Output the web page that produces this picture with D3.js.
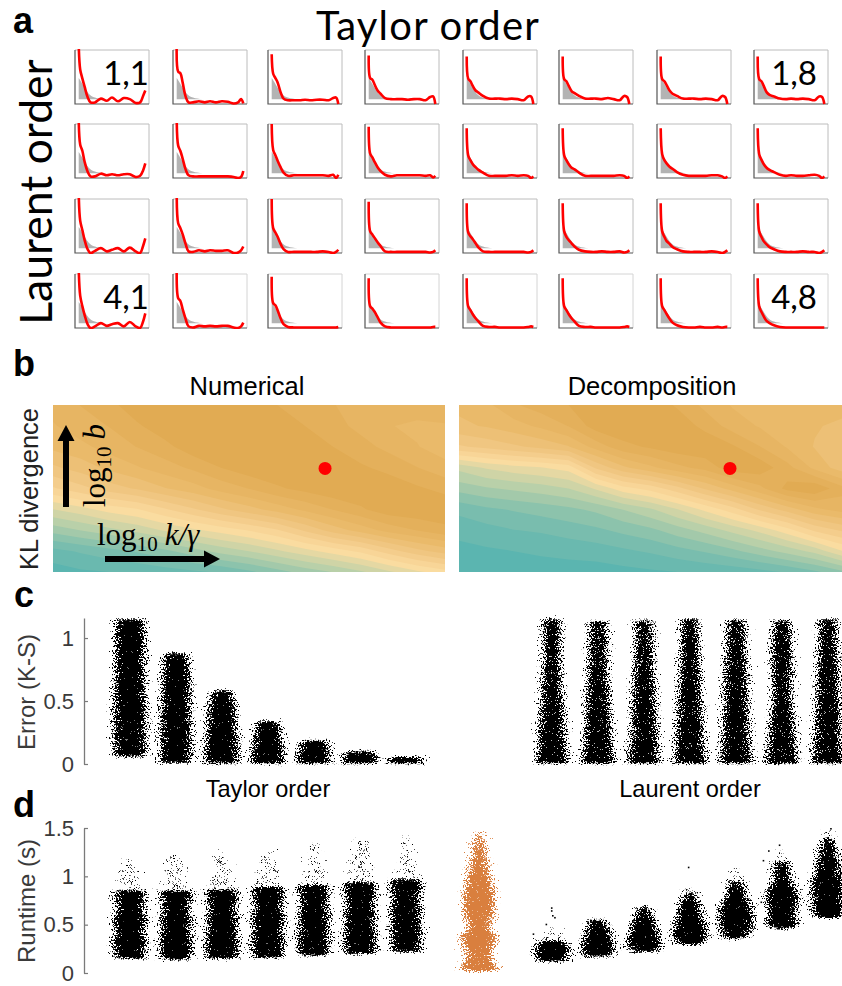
<!DOCTYPE html>
<html>
<head>
<meta charset="utf-8">
<script src="https://cdn.jsdelivr.net/npm/d3@7"></script>
<style>
  body { margin: 0; background: #fff; }
  svg { display: block; }
  text { font-family: "Liberation Sans", Arial, sans-serif; }
  .cal { font-family: Lato, "Open Sans", sans-serif; }
  .math { font-family: "Liberation Serif", serif; }
</style>
</head>
<body>
<svg id="fig" width="842" height="986"></svg>
<script>
// panel a: fit curves, one row per Laurent order, one entry per Taylor order
var curveX = [.05,.07,.1,.13,.17,.21,.27,.35,.43,.5,.58,.66,.74,.82,.88,.92,.95];
var histX = [.05,.07,.1,.14,.18,.22,.27,.33,.4,.5];
var histY = [.48,.44,.37,.28,.2,.15,.12,.1,.09,.09];
var fitsRow1 = [
  [1.1,.64,.47,.32,.13,.03,.03,.1,.06,.12,.05,.11,.09,.02,.03,.15,.25],
  [1.1,.6,.57,.4,.14,.03,.03,.05,.03,.05,.03,.05,.04,.01,.03,.09,.01],
  [.92,.56,.48,.4,.22,.1,.07,.07,.07,.08,.07,.08,.08,.07,.11,.12,0],
  [.9,.48,.45,.36,.25,.19,.11,.09,.09,.09,.08,.09,.09,.07,.13,.14,0],
  [.88,.47,.42,.34,.25,.21,.15,.1,.1,.1,.09,.1,.09,.07,.14,.14,0],
  [.88,.46,.42,.34,.24,.2,.15,.1,.1,.1,.09,.11,.09,.07,.15,.13,0],
  [.88,.46,.42,.35,.25,.19,.15,.1,.1,.1,.09,.1,.09,.07,.15,.13,0],
  [.88,.46,.42,.34,.22,.17,.14,.1,.09,.1,.09,.1,.09,.07,.14,.13,0]
];
var fitsRow2 = [
  [1.1,.62,.5,.3,.12,.03,.03,.08,.05,.07,.05,.07,.07,.02,.04,.14,.27],
  [1.1,.6,.5,.36,.16,.05,.03,.03,.03,.03,.03,.03,.03,.02,0,.02,.13],
  [1,.52,.42,.32,.2,.1,.04,.05,.05,.05,.05,.05,.05,.04,.06,0,.06],
  [.95,.45,.38,.3,.2,.13,.06,.03,.05,.05,.05,.05,.05,.04,.05,.01,.04],
  [.92,.42,.33,.26,.2,.15,.1,.04,.04,.04,.04,.05,.04,.05,.04,0,.03],
  [.92,.42,.33,.26,.19,.16,.1,.04,.04,.04,.04,.04,.04,.05,.04,0,.03],
  [.92,.44,.33,.27,.21,.17,.11,.06,.04,.04,.04,.04,.05,.05,.03,0,.03],
  [.92,.44,.34,.26,.19,.15,.11,.06,.04,.05,.04,.04,.05,.06,.04,0,.03]
];
var fitsRow3 = [
  [1.1,.6,.42,.24,.07,0,.04,.09,.03,.06,.09,.03,.1,.03,0,.13,.27],
  [1.1,.55,.46,.35,.17,.03,.02,.05,.03,.05,.04,.04,.05,0,.01,.05,.12],
  [1,.46,.38,.3,.17,.07,.02,.02,.02,.02,.02,.02,.03,.02,0,.02,.06],
  [.95,.4,.34,.28,.2,.13,.03,.02,.02,.02,.02,.02,.02,.02,.01,.02,.05],
  [.92,.38,.31,.26,.18,.1,.03,.02,.02,.02,.02,.02,.02,.02,.01,.02,.05],
  [.92,.4,.3,.24,.18,.12,.06,.03,.02,.02,.03,.02,.02,.03,.01,.02,.05],
  [.92,.4,.3,.22,.17,.11,.07,.03,.02,.02,.02,.02,.03,.02,0,.02,.05],
  [.92,.4,.3,.22,.16,.11,.07,.03,.02,.02,.02,.03,.02,.02,0,.02,.05]
];
var fitsRow4 = [
  [1.1,.6,.4,.24,.07,0,.03,.09,.04,.07,.09,.03,.11,.03,0,.12,.27],
  [1.1,.55,.5,.35,.17,.03,.01,.04,.03,.04,.03,.04,.04,.01,0,.03,.1],
  [.95,.46,.42,.33,.18,.07,.02,.01,.01,.01,.01,.01,.01,.01,.01,.01,.02],
  [.92,.4,.36,.3,.2,.1,.03,.01,.01,.01,.01,.01,.01,.01,.01,.02,.02],
  [.92,.4,.33,.26,.18,.12,.04,.02,.02,.01,.01,.01,.01,.01,.02,.03,.02],
  [.92,.4,.33,.26,.18,.12,.04,.02,.02,.01,.01,.01,.01,.01,.02,.03,.02],
  [.92,.4,.33,.26,.17,.1,.05,.02,.01,.01,.02,.01,.01,.02,.01,.02,.02],
  [.92,.4,.3,.22,.13,.09,.05,.02,.01,.01,.01,.01,.01,.01,.01,.01,.01]
];
var boxLefts = [75,173,268,365,463,559,657,754];
var boxTops = [50,124,199,274];
var cornerLabels = [[0,0,"1,1"],[0,7,"1,8"],[3,0,"4,1"],[3,7,"4,8"]];

var klNumerical = [
  [8.6,9,9.4,10,10.1,10.2,10.1,10,9.6,9.2,9,8.8,8.8,8.8,8.8],
  [8.3,8.7,9,9.5,10,10.1,10.2,10.2,10,9.6,9.2,8.8,8.4,8.2,8.3],
  [7.9,8.2,8.6,9,9.4,10,10.1,10.2,10.2,10,9.6,9.2,8.8,8.4,8],
  [7,7.4,7.9,8.3,8.7,9.1,9.6,10,10.1,10.1,10,9.7,9.4,9,8.6],
  [5.8,6.3,6.8,7.2,7.7,8.1,8.6,9,9.5,9.8,10.1,10.1,10,9.7,9.4],
  [4,4.4,4.9,5.2,5.8,6.4,7,7.5,8,8.5,9,9.5,10,10.1,10.1],
  [2.4,2.8,3.2,3.6,4.1,4.5,4.9,5.3,5.8,6.6,7.4,8,8.6,9,9.4],
  [.7,1,1.3,1.6,2,2.5,3,3.4,3.9,4.4,4.9,5.4,6.2,6.9,7.4],
  [0,.2,.3,.4,.6,.8,1,1.4,1.9,2.4,2.8,3.3,3.9,4.5,5]
];
var klDecomposition = [
  [7.9,8.2,8.9,9.3,9.6,10,10.2,10,9.5,8.8,8.3,8.2,8.1,8,8],
  [7.6,7.8,8.1,8.5,9,9.9,10.1,10.2,10,9.4,8.7,8.3,8,7.8,7.6],
  [6.4,6.7,7,7.3,7.7,8.6,9.4,9.7,10,10.1,9.7,9,8.3,7.7,7.2],
  [3.6,4.1,4.4,4.6,4.9,6.6,7.6,8.2,8.8,9.2,10,10,9.2,8.2,7.4],
  [2.4,2.7,2.9,3.1,3.4,4.1,5,5.5,6.3,7.2,8,8.8,9.8,10.1,9.2],
  [1.1,1.4,1.6,1.8,2,2.3,2.8,3.3,4,4.8,5.6,6.6,7.4,8.2,8.6],
  [.5,.7,.9,1,1.2,1.4,1.7,2,2.5,3,3.6,4.2,5,6,6.6],
  [.1,.2,.3,.4,.5,.6,.8,1,1.3,1.6,2,2.5,3,3.6,4.6],
  [0,0,0,0,0,0,.1,.2,.3,.4,.5,.7,1,1.4,2]
];
var klStops = [0,1.5,3,5,6.5,8,10];
var klColors = ["#5bb5b0","#7fbfad","#b6cfa9","#fcdca0","#f2c987","#eaba6b","#e1aa52"];
var redDotNumerical = [.694,.38];
var redDotDecomposition = [.7076,.38];

// panels c and d: envelope of each cloud as [level, half spread]
var errTaylor = [
  [[.06,13],[.1,14],[.25,14.5],[.5,14],[.75,13],[1,13],[1.12,12.5],[1.15,11]],
  [[.01,14],[.1,14],[.3,13.5],[.5,13],[.7,12],[.85,10],[.88,7]],
  [[.005,15],[.1,15],[.3,13],[.45,12],[.55,9],[.585,6]],
  [[.005,15],[.1,14.5],[.2,12.5],[.3,10.5],[.34,8]],
  [[.005,15],[.05,15],[.1,14],[.17,12],[.185,10]],
  [[.005,16],[.05,16],[.09,13],[.1,9]],
  [[.005,16],[.03,16],[.05,14],[.055,9]]
];
var errLaurent = [
  [[.005,15],[.1,13],[.3,11],[.55,9],[.8,7.5],[1,7],[1.15,7]],
  [[.005,15],[.1,13],[.3,11.5],[.55,10],[.8,8],[1,7.5],[1.13,7]],
  [[.005,15],[.1,13],[.3,11],[.55,10],[.8,8],[1,7],[1.14,7]],
  [[.005,15],[.1,13],[.3,11.5],[.55,10],[.8,8.5],[1,7.5],[1.15,7]],
  [[.005,15],[.1,13],[.3,11.5],[.55,10.5],[.8,9],[1,8],[1.14,7]],
  [[.005,15],[.1,13],[.3,11],[.55,8],[.8,9],[1,8],[1.14,7]],
  [[.005,15],[.1,13],[.3,11.5],[.55,10],[.8,9],[1,8],[1.15,7]]
];
var runTaylor = [
  [[.15,13],[.2,14],[.35,15],[.42,13],[.55,15],[.65,12],[.75,13],[.82,14],[.85,13]],
  [[.14,13],[.2,14],[.33,15],[.42,13],[.55,14],[.66,12],[.75,13],[.82,14],[.85,13]],
  [[.15,13],[.2,14],[.35,15],[.43,13],[.56,14],[.66,12],[.76,14],[.83,14],[.86,13]],
  [[.16,13],[.22,14],[.36,15],[.45,13],[.58,15],[.68,12],[.78,14],[.85,14],[.89,13]],
  [[.18,13],[.24,14],[.38,14],[.47,13],[.6,14],[.7,12],[.8,13],[.88,14],[.91,12]],
  [[.2,13],[.26,14],[.4,14],[.5,13],[.62,14],[.72,12],[.82,14],[.9,14],[.94,12]],
  [[.22,13],[.28,13],[.42,14],[.54,13],[.65,14],[.76,12],[.86,14],[.93,14],[.97,12]]
];
var runTaylorTail = [
  [[.84,10],[.95,8],[1.05,7],[1.12,6],[1.2,2]],
  [[.84,11],[.95,9],[1.05,8],[1.15,7],[1.23,4]],
  [[.85,11],[.95,9],[1.05,8],[1.15,6],[1.25,4]],
  [[.88,11],[1,9],[1.1,8],[1.2,5],[1.28,3]],
  [[.9,11],[1,9],[1.1,7],[1.22,5],[1.33,2]],
  [[.93,11],[1.03,9],[1.15,8],[1.27,6],[1.38,4]],
  [[.96,11],[1.07,8],[1.18,6],[1.3,5],[1.41,2]]
];
var runLaurent = [
  [[.12,9],[.14,14],[.2,15],[.27,15],[.33,11]],
  [[.17,11],[.2,14],[.27,15],[.35,13],[.45,10],[.52,7],[.55,3]],
  [[.22,11],[.26,14],[.33,15],[.42,13],[.5,11],[.58,8],[.64,6],[.68,2]],
  [[.29,10],[.33,13],[.42,16],[.5,14],[.6,11],[.7,9],[.78,6],[.83,3]],
  [[.36,9],[.42,13],[.55,16],[.68,14],[.78,10],[.85,8],[.95,4]],
  [[.46,9],[.52,14],[.6,12],[.72,14],[.8,15],[.88,12],[.95,8],[1.05,7],[1.15,5]],
  [[.57,9],[.62,14],[.75,14],[.88,15],[.97,14],[1.05,11],[1.15,10],[1.3,6],[1.4,3]]
];
var runLaurentTail = [
  [[.3,13],[.38,11],[.44,7],[.46,3]],
  [[.5,9],[.55,7],[.58,2]],
  [[.62,9],[.68,7],[.71,2]],
  [[.78,8],[.86,5],[.88,2]],
  [[.9,8],[1,6],[1.1,1]],
  [[1.1,9],[1.2,7],[1.28,2]],
  [[1.35,7],[1.45,4],[1.5,1]]
];
var runLaurentStrays = [
  [1,-1,.68],[1,-1,.65],[1,2,.58],[1,0,.6],[1,-6,.51],[1,-18,.41],
  [4,-2,1.1],[4,-9,.62],[6,-13,1.27],[6,-18,1.17],[6,-3,1.33],[7,2,1.5],[7,-10,.9],[6,-20,.74]
];
var numerical = [[.02,13],[.05,17],[.12,12],[.2,11],[.3,14],[.38,16],[.45,10],[.6,13],[.75,14],[.9,12],[1.05,9],[1.15,7],[1.25,5],[1.35,3],[1.45,1]];
var numericalTail = [[1.2,9],[1.35,7],[1.45,5],[1.5,2]];
var errTicks = [0,.5,1];
var runTicks = [0,.5,1,1.5];
var orders = d3.range(1,8);

var svg = d3.select("#fig");
var defs = svg.append("defs");

// speckle tiles so the envelopes read as clouds of dots
function tile(id, w, h, bg, dots, col, size) {
  var p = defs.append("pattern").attr("id", id).attr("width", w).attr("height", h)
    .attr("patternUnits", "userSpaceOnUse");
  if (bg) p.append("rect").attr("width", w).attr("height", h).attr("fill", bg);
  dots.forEach(function(d) {
    p.append("rect").attr("x", d[0]).attr("y", d[1]).attr("width", size).attr("height", size).attr("fill", col);
  });
}
var specks = [[2,1],[9,3],[14,0],[5,6],[12,8],[1,10],[17,6],[8,12],[15,13],[3,15],[10,16],[6,2]];
var fewSpecks = [[2,1],[12,8],[8,12],[17,6],[5,14]];
var tailDots = [[2,2],[11,1],[6,6],[17,5],[13,11],[1,12],[8,15],[20,16],[4,9],[15,8],[9,3],[19,13],[11,7],[21,1],[5,16],[16,15],[22,9]];
tile("darkCore", 19, 17, "#000", fewSpecks, "#777", 1);
tile("darkMid", 19, 17, "#000", specks, "#bbb", 1);
tile("darkTail", 23, 19, null, tailDots, "#000", 1.7);
tile("orangeCore", 19, 17, "#d97f3e", specks, "#eab48d", 1);
tile("orangeTail", 23, 19, null, tailDots, "#d97f3e", 1.8);

// grain for the cloud edges, pushes pixels mostly sideways
var grain = defs.append("filter").attr("id", "grain").attr("filterUnits", "userSpaceOnUse")
  .attr("x", 0).attr("y", 600).attr("width", 842).attr("height", 386)
  .attr("color-interpolation-filters", "sRGB");
grain.append("feTurbulence").attr("type", "fractalNoise").attr("baseFrequency", .65)
  .attr("numOctaves", 2).attr("seed", 7).attr("result", "noise");
grain.append("feColorMatrix").attr("in", "noise").attr("type", "matrix")
  .attr("values", "1 0 0 0 0  0 .3 0 0 .35  0 0 1 0 0  0 0 0 0 1").attr("result", "flat");
grain.append("feDisplacementMap").attr("in", "SourceGraphic").attr("in2", "flat")
  .attr("scale", 30).attr("xChannelSelector", "R").attr("yChannelSelector", "G").attr("result", "moved");
grain.append("feGaussianBlur").attr("in", "moved").attr("stdDeviation", .35);

// ---- a
var boxW = 74, boxH = 54;
var boxX = d3.scaleLinear().domain([0,1]).range([0,boxW]);
var boxY = d3.scaleLinear().domain([0,1]).range([boxH,0]);
var fitLine = d3.line().x(function(d) { return boxX(d[0]); }).y(function(d) { return boxY(d[1]); })
  .curve(d3.curveCatmullRom.alpha(.5));
var histArea = d3.area().x(function(d) { return boxX(d[0]); }).y1(function(d) { return boxY(d[1]); })
  .y0(boxY(.09)).curve(d3.curveMonotoneX);

defs.append("clipPath").attr("id", "boxClip").append("rect")
  .attr("width", boxW).attr("height", boxH + 2).attr("y", -1);

[fitsRow1, fitsRow2, fitsRow3, fitsRow4].forEach(function(row, r) {
  row.forEach(function(vals, c) {
    var g = svg.append("g").attr("transform", "translate(" + boxLefts[c] + "," + boxTops[r] + ")");
    g.append("path").attr("d", "M0,0H" + boxW + "V" + boxH).attr("fill", "none")
      .attr("stroke", r == 3 ? "#d4d4d4" : "#bcbcbc").attr("stroke-width", 1);
    g.append("path").attr("d", histArea(d3.zip(histX, histY))).attr("fill", "#b3b3b3");
    g.append("path").attr("d", "M0,0V" + boxH + "H" + boxW).attr("fill", "none")
      .attr("stroke", "#555").attr("stroke-width", 1.2);
    g.append("path").attr("d", fitLine(d3.zip(curveX, vals))).attr("fill", "none")
      .attr("stroke", "#f00").attr("stroke-width", 2.6).attr("clip-path", "url(#boxClip)");
  });
});
cornerLabels.forEach(function(d) {
  svg.append("text").attr("class", "cal")
    .attr("x", boxLefts[d[1]] + (d[1] == 7 ? 63 : 74)).attr("y", boxTops[d[0]] + 35)
    .attr("text-anchor", "end").attr("font-size", 33).text(d[2]);
});
svg.append("text").attr("class", "cal").attr("x", 428).attr("y", 40).attr("text-anchor", "middle")
  .attr("font-size", 40).attr("letter-spacing", 1.2).text("Taylor order");
svg.append("text").attr("class", "cal").attr("transform", "translate(52,192) rotate(-90)")
  .attr("text-anchor", "middle").attr("font-size", 44.5).text("Laurent order");

[["a",13,33],["b",13,376],["c",14,607],["d",13,817]].forEach(function(d) {
  svg.append("text").attr("x", d[1]).attr("y", d[2]).attr("font-size", 36).attr("font-weight", 700).text(d[0]);
});

// ---- b
var klColor = d3.scaleLinear().domain(klStops).range(klColors);
var thresholds = d3.range(.3, 10.3, .62);
function klPanel(grid, left, right, title, titleX, dot, id) {
  var top = 405, bottom = 572;
  var nRows = grid.length, nCols = grid[0].length;
  var gx = d3.scaleLinear().domain([.5, nCols - .5]).range([left, right]);
  var gy = d3.scaleLinear().domain([.5, nRows - .5]).range([top, bottom]);
  var path = d3.geoPath(d3.geoTransform({ point: function(x, y) { this.stream.point(gx(x), gy(y)); } }));
  var bands = d3.contours().size([nCols, nRows]).smooth(true).thresholds(thresholds)(d3.merge(grid));
  defs.append("clipPath").attr("id", id).append("rect")
    .attr("x", left).attr("y", top).attr("width", right - left).attr("height", bottom - top);
  var g = svg.append("g").attr("clip-path", "url(#" + id + ")");
  g.append("rect").attr("x", left).attr("y", top).attr("width", right - left).attr("height", bottom - top)
    .attr("fill", klColors[0]);
  g.selectAll("path").data(bands).join("path").attr("d", path)
    .attr("fill", function(d) { return klColor(d.value + .31); });
  svg.append("text").attr("x", titleX).attr("y", 395).attr("text-anchor", "middle")
    .attr("font-size", 25.5).text(title);
  svg.append("circle").attr("cx", left + (right - left) * dot[0]).attr("cy", top + (bottom - top) * dot[1])
    .attr("r", 6.5).attr("fill", "#f00");
}
klPanel(klNumerical, 53, 445, "Numerical", 247, redDotNumerical, "klNum");
klPanel(klDecomposition, 459, 842, "Decomposition", 652, redDotDecomposition, "klDec");

svg.append("text").attr("transform", "translate(38,489) rotate(-90)").attr("text-anchor", "middle")
  .attr("font-size", 25.5).attr("fill", "#222").text("KL divergence");

function arrow(x0, y0, x1, y1) {
  var a = Math.atan2(y1 - y0, x1 - x0), len = Math.hypot(x1 - x0, y1 - y0);
  var g = svg.append("g").attr("transform", "translate(" + x0 + "," + y0 + ") rotate(" + a * 180 / Math.PI + ")");
  g.append("path").attr("d", "M0,-3H" + (len - 16) + "V-8.5L" + len + ",0L" + (len - 16) + ",8.5V3H0Z").attr("fill", "#000");
}
arrow(66, 507, 66, 425);
arrow(105, 559, 220, 559);

function mathText(parent, parts) {
  var t = parent.append("text").attr("class", "math").attr("font-size", 31);
  t.append("tspan").text("log");
  t.append("tspan").attr("font-size", 21).attr("dy", 6).text("10");
  t.append("tspan").attr("dy", -6).attr("dx", 7).attr("font-style", "italic").text(parts);
}
mathText(svg.append("g").attr("transform", "translate(97,545)"), "k/γ");
mathText(svg.append("g").attr("transform", "translate(105,507) rotate(-90)"), "b");

// ---- c, d
var orderLeft = d3.scaleLinear().domain([1,7]).range([130,406]);
var orderRight = d3.scaleLinear().domain([1,7]).range([552,828]);
var errY = d3.scaleLinear().domain([0,1.159]).range([764,618]);
var runY = d3.scaleLinear().domain([0,1.5]).range([973,828]);
var spread = d3.scaleLinear().domain([0,20]).range([0,21.5]);
var clouds = svg.append("g").attr("filter", "url(#grain)");

function envelope(cx, y) {
  return d3.area().y(function(d) { return y(d[0]); })
    .x0(function(d) { return cx - spread(d[1]); })
    .x1(function(d) { return cx + spread(d[1]); })
    .curve(d3.curveCatmullRom);
}
function cloud(levels, cx, y, core) {
  clouds.append("path").attr("d", envelope(cx, y)(levels)).attr("fill", "url(#" + core + ")");
}

orders.forEach(function(o, i) {
  cloud(errTaylor[i], orderLeft(o), errY, "darkCore");
  cloud(errLaurent[i], orderRight(o), errY, "darkMid");
  cloud(runTaylorTail[i], orderLeft(o), runY, "darkTail");
  cloud(runTaylor[i], orderLeft(o), runY, "darkCore");
  cloud(runLaurentTail[i], orderRight(o), runY, "darkTail");
  cloud(runLaurent[i], orderRight(o), runY, "darkCore");
});
cloud(numericalTail, 479, runY, "orangeTail");
cloud(numerical, 479, runY, "orangeCore");

svg.selectAll("rect.stray").data(runLaurentStrays).join("rect").attr("class", "stray")
  .attr("x", function(d) { return orderRight(d[0]) + spread(d[1]); })
  .attr("y", function(d) { return runY(d[2]); })
  .attr("width", 1.6).attr("height", 1.6).attr("fill", "#000");

function yAxis(scale, ticks) {
  var g = svg.append("g").attr("transform", "translate(84,0)")
    .call(d3.axisLeft(scale).tickValues(ticks).tickSize(-4).tickSizeOuter(0).tickPadding(10).tickFormat(d3.format("")));
  g.select(".domain").attr("stroke", "#7a7a7a").attr("stroke-width", 1.3);
  g.selectAll(".tick line").attr("stroke", "#7a7a7a").attr("stroke-width", 1.2);
  g.selectAll("text").attr("font-size", 22).attr("fill", "#3a3a3a")
    .style("font-family", "'Liberation Sans', Arial, sans-serif");
}
yAxis(errY, errTicks);
yAxis(runY, runTicks);

svg.append("text").attr("transform", "translate(35,692) rotate(-90)").attr("text-anchor", "middle")
  .attr("font-size", 24).attr("fill", "#3a3a3a").text("Error (K-S)");
svg.append("text").attr("transform", "translate(35,901) rotate(-90)").attr("text-anchor", "middle")
  .attr("font-size", 24).attr("fill", "#3a3a3a").text("Runtime (s)");
svg.append("text").attr("x", 268).attr("y", 797).attr("text-anchor", "middle").attr("font-size", 23.6).text("Taylor order");
svg.append("text").attr("x", 690).attr("y", 797).attr("text-anchor", "middle").attr("font-size", 23.6).text("Laurent order");
</script>
</body>
</html>
